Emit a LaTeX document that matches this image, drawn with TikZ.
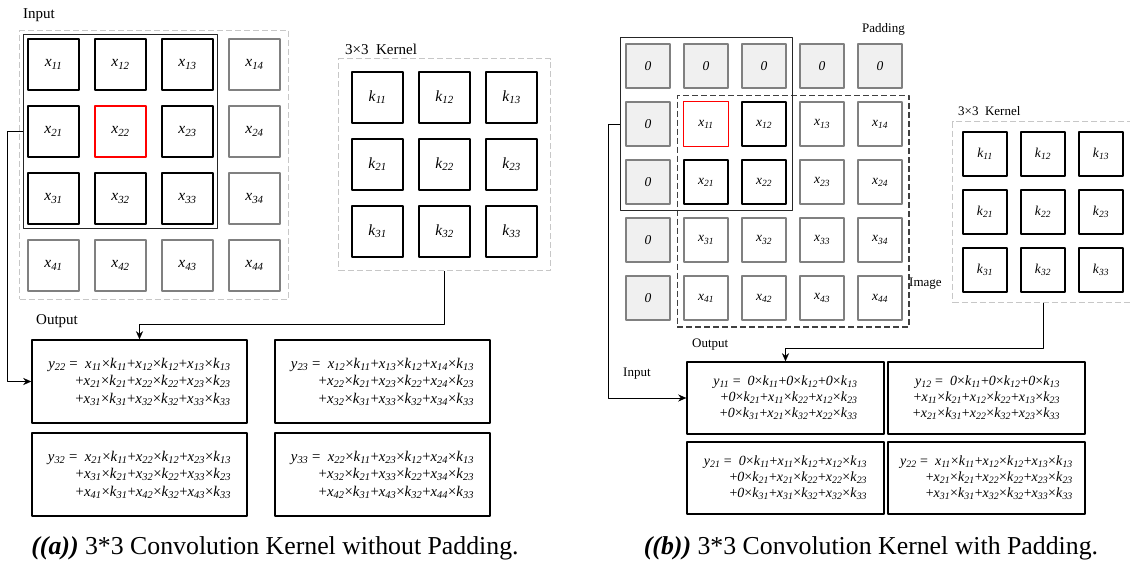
\documentclass[tikz,border=0pt]{standalone}
\usepackage{fontspec}
\setmainfont{Liberation Serif}
\usetikzlibrary{fit,arrows.meta}

\newcommand\xx[1]{\textit{x}\textsubscript{\textit{#1}}}
\newcommand\kk[1]{\textit{k}\textsubscript{\textit{#1}}}
\newcommand\yy[1]{\textit{y}\textsubscript{\textit{#1}}}
\newcommand\mt[2]{\xx{#1}×\kk{#2}}
\newcommand\mz[1]{\textit{0}×\kk{#1}}

\begin{document}
\begin{tikzpicture}[x=1pt,y=-1pt,line join=round,>={Stealth[length=8pt,width=7pt]},
  cellgr/.style={draw=black!50,line width=1.6pt,minimum size=51pt,inner sep=0pt,font=\fontsize{15.5}{17}\selectfont},
  cellbk/.style={cellgr,draw=black},
  cellrd/.style={cellgr,draw=red,line width=1.1pt},
  cimg/.style={draw=black!50,line width=1.6pt,minimum size=44.5pt,inner sep=0pt,font=\fontsize{13.5}{15}\selectfont},
  cpad/.style={cimg,fill=black!6},
  cbk/.style={cimg,draw=black},
  crd/.style={cimg,draw=red,line width=1.1pt},
  lightdash/.style={draw=black!22,line width=1pt,dash pattern=on 6pt off 3pt},
  winframe/.style={draw=black!85,line width=0.9pt},
  lbl/.style={anchor=west,inner sep=0pt,font=\fontsize{13}{15}\selectfont},
  lblA/.style={lbl,font=\fontsize{15}{17}\selectfont},
  outA/.style={draw,line width=1.5pt,minimum width=215pt,minimum height=83pt,align=right,font=\fontsize{14.8}{17.5}\selectfont},
  outB/.style={draw,line width=1.5pt,minimum width=197pt,minimum height=72pt,align=right,font=\fontsize{14}{16}\selectfont},
  captxt/.style={font=\fontsize{25.8}{27}\selectfont}]
\useasboundingbox (0,0) rectangle (1130,575);

% ---- (a) without padding ----
\foreach \i in {1,...,4}
  \foreach \j in {1,...,4}{
    \def\sty{cellgr}
    \ifnum\i<4 \ifnum\j<4 \def\sty{cellbk}\fi\fi
    \ifnum\i\j=22 \def\sty{cellrd}\fi
    \node[\sty] (a\i\j) at ({53.5+67*(\j-1)},{64.5+67*(\i-1)}) {\xx{\i\j}};
  }
\node[lightdash,fit=(a11)(a44),inner sep=7.5pt] (inA) {};
\node[winframe,fit=(a11)(a33),inner sep=3.5pt] (winA) {};
\node[lblA] (tinA) at (23,15) {Input};

\foreach \i in {1,...,3}
  \foreach \j in {1,...,3}
    \node[cellbk] (ka\i\j) at ({377.5+67*(\j-1)},{97.5+67*(\i-1)}) {\kk{\i\j}};
\node[lightdash,fit=(ka11)(ka33),inner sep=12.5pt] (kerA) {};
\node[lblA] (tkerA) at (345,49) {3×3\ \ Kernel};

\node[lblA] (toutA) at (36,321) {Output};
\node[outA] (oa1) at (139.5,381.5) {\yy{22} =\ \ \mt{11}{11}+\mt{12}{12}+\mt{13}{13}\\
  +\mt{21}{21}+\mt{22}{22}+\mt{23}{23}\\ +\mt{31}{31}+\mt{32}{32}+\mt{33}{33}};
\node[outA] (oa2) at (382.5,381.5) {\yy{23} =\ \ \mt{12}{11}+\mt{13}{12}+\mt{14}{13}\\
  +\mt{22}{21}+\mt{23}{22}+\mt{24}{23}\\ +\mt{32}{31}+\mt{33}{32}+\mt{34}{33}};
\node[outA] (oa3) at (139.5,474.5) {\yy{32} =\ \ \mt{21}{11}+\mt{22}{12}+\mt{23}{13}\\
  +\mt{31}{21}+\mt{32}{22}+\mt{33}{23}\\ +\mt{41}{31}+\mt{42}{32}+\mt{43}{33}};
\node[outA] (oa4) at (382.5,474.5) {\yy{33} =\ \ \mt{22}{11}+\mt{23}{12}+\mt{24}{13}\\
  +\mt{32}{21}+\mt{33}{22}+\mt{34}{23}\\ +\mt{42}{31}+\mt{43}{32}+\mt{44}{33}};

\draw[->] (winA.west) -- ++(-16,0) |- (oa1.west);
\draw[->] (kerA.south) -- ++(0,53) -| (oa1.north);

\node[captxt] (capA) at (275,548) {\textbf{\textit{((a))}} 3*3 Convolution Kernel without Padding.};

% ---- (b) with padding ----
\foreach \c in {1,...,5}
  \node[cpad] (p1\c) at ({648+58*(\c-1)},66) {\textit{0}};
\foreach \r in {2,...,5}
  \node[cpad] (p\r1) at (648,{66+58*(\r-1)}) {\textit{0}};
\foreach \i in {1,...,4}
  \foreach \j in {1,...,4}{
    \def\sty{cimg}
    \ifnum\i<3 \ifnum\j<3 \def\sty{cbk}\fi\fi
    \ifnum\i\j=11 \def\sty{crd}\fi
    \node[\sty] (b\i\j) at ({706+58*(\j-1)},{124+58*(\i-1)}) {\xx{\i\j}};
  }
\node[draw=black!75,line width=1.2pt,dash pattern=on 6pt off 3pt,fit=(b11)(b44),inner sep=6pt] (imgB) {};
\node[winframe,fit=(p11)(b22),inner sep=5pt] (winB) {};
\node[lbl] (tpad) at (862,29) {Padding};
\node[lbl] (timg) at (909,284) {Image};
\node[lbl] (tinB) at (623,374) {Input};

\foreach \i in {1,...,3}
  \foreach \j in {1,...,3}
    \node[cbk] (kb\i\j) at ({985+58*(\j-1)},{154+58*(\i-1)}) {\kk{\i\j}};
\node[lightdash,fit=(kb11)(kb33),inner sep=9pt] (kerB) {};
\node[lbl] (tkerB) at (958,111) {3×3\ \ Kernel};

\node[lbl] (toutB) at (692,345) {Output};
\node[outB] (ob1) at (785.5,398) {\yy{11} =\ \ \mz{11}+\mz{12}+\mz{13}\\
  +\mz{21}+\mt{11}{22}+\mt{12}{23}\\ +\mz{31}+\mt{21}{32}+\mt{22}{33}};
\node[outB] (ob2) at (986.5,398) {\yy{12} =\ \ \mz{11}+\mz{12}+\mz{13}\\
  +\mt{11}{21}+\mt{12}{22}+\mt{13}{23}\\ +\mt{21}{31}+\mt{22}{32}+\mt{23}{33}};
\node[outB] (ob3) at (785.5,478) {\yy{21} =\ \ \mz{11}+\mt{11}{12}+\mt{12}{13}\\
  +\mz{21}+\mt{21}{22}+\mt{22}{23}\\ +\mz{31}+\mt{31}{32}+\mt{32}{33}};
\node[outB] (ob4) at (986.5,478) {\yy{22} =\ \ \mt{11}{11}+\mt{12}{12}+\mt{13}{13}\\
  +\mt{21}{21}+\mt{22}{22}+\mt{23}{23}\\ +\mt{31}{31}+\mt{32}{32}+\mt{33}{33}};

\draw[->] (winB.west) -- ++(-11,0) |- (ob1.west);
\draw[->] (kerB.south) -- ++(0,46) -| (ob1.north);

\node[captxt] (capB) at (871,548) {\textbf{\textit{((b))}} 3*3 Convolution Kernel with Padding.};
\end{tikzpicture}
\end{document}
